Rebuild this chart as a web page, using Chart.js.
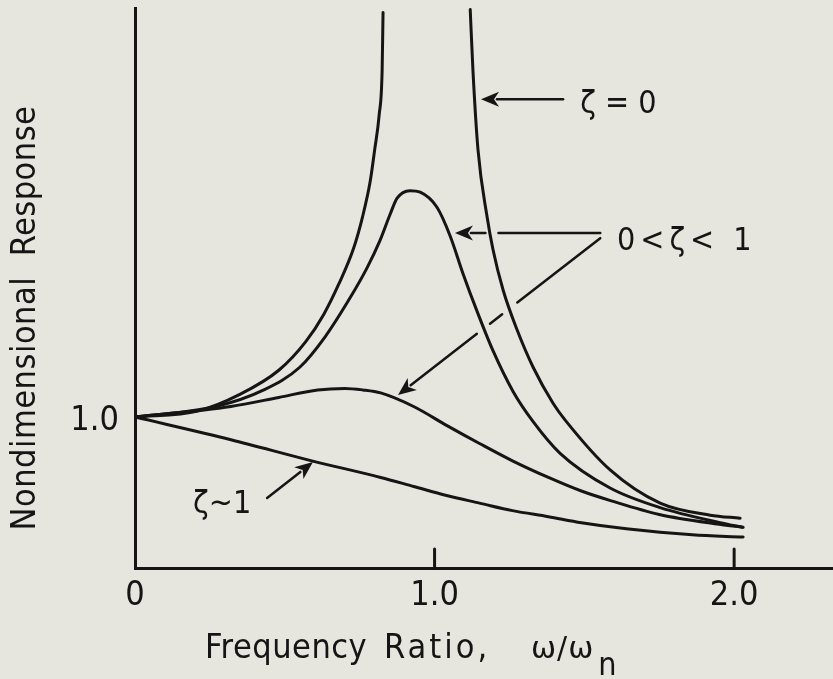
<!DOCTYPE html>
<html>
<head>
<meta charset="utf-8">
<script src="https://cdn.jsdelivr.net/npm/chart.js@4/dist/chart.umd.min.js"></script>
<style>
  body { margin: 0; background: #e6e6de; }
</style>
</head>
<body>
<canvas id="myChart" width="833" height="679"></canvas>
<script>
var xTickValues = [0, 1, 2];
var xTickLabels = ['0', '1.0', '2.0'];
var xTickMarks = [1, 2];
var yTickValues = [1];
var yTickLabels = ['1.0'];

// zeta = 0, below and above resonance
var rUndampedLow = [0, 0.21, 0.35, 0.48, 0.57, 0.63, 0.68, 0.73, 0.76, 0.785, 0.80, 0.815, 0.825, 0.828];
var vUndampedLow = [1.0, 1.04, 1.15, 1.31, 1.50, 1.68, 1.88, 2.12, 2.33, 2.56, 2.77, 3.0, 3.3, 3.68];
var rUndampedHigh = [1.119, 1.128, 1.145, 1.175, 1.195, 1.229, 1.275, 1.329, 1.396, 1.436, 1.586, 1.753, 1.92, 2.02];
var vUndampedHigh = [3.70, 3.30, 2.77, 2.33, 2.11, 1.84, 1.58, 1.33, 1.09, 0.98, 0.65, 0.43, 0.35, 0.33];

// 0 < zeta < 1, light and moderate damping
var rLightDamping = [0, 0.27, 0.43, 0.55, 0.634, 0.718, 0.775, 0.818, 0.851, 0.875, 0.918, 0.952, 1.008, 1.052, 1.095, 1.142, 1.195, 1.262, 1.329, 1.419, 1.586, 1.753, 1.953, 2.027];
var vLightDamping = [1.0, 1.07, 1.18, 1.33, 1.53, 1.79, 1.99, 2.17, 2.34, 2.45, 2.50, 2.49, 2.39, 2.20, 1.95, 1.70, 1.44, 1.17, 0.97, 0.76, 0.53, 0.40, 0.30, 0.27];
var rModerateDamping = [0, 0.32, 0.48, 0.61, 0.70, 0.76, 0.82, 0.93, 1.04, 1.15, 1.26, 1.38, 1.49, 1.59, 1.75, 1.95, 2.03];
var vModerateDamping = [1.0, 1.07, 1.13, 1.18, 1.19, 1.18, 1.16, 1.07, 0.945, 0.825, 0.71, 0.60, 0.51, 0.445, 0.355, 0.29, 0.27];

// zeta ~ 1
var rCritical = [0, 0.32, 0.59, 0.82, 0.93, 1.04, 1.15, 1.26, 1.38, 1.49, 1.64, 1.86, 2.03];
var vCritical = [1.0, 0.85, 0.71, 0.60, 0.54, 0.48, 0.43, 0.38, 0.34, 0.30, 0.26, 0.22, 0.205];

var ink = '#151515';
var font = '"DejaVu Sans Condensed", "DejaVu Sans", sans-serif';

// labels and arrows, in data units
var notes = [
  { text: 'ζ = 0', x: 1.486, y: 3.013, spacing: 0 },
  { text: '0<ζ< 1', x: 1.609, y: 2.106, spacing: 5 },
  { text: 'ζ~1', x: 0.194, y: 0.364, spacing: 0 }
];
var arrows = [
  { from: [1.429, 3.106], to: [1.155, 3.106], gaps: [] },
  { from: [1.553, 2.219], to: [1.068, 2.219], gaps: [[0.70, 0.79]] },
  { from: [1.553, 2.185], to: [0.878, 1.146], gaps: [[0.41, 0.485], [0.545, 0.61]] },
  { from: [0.441, 0.464], to: [0.594, 0.702], gaps: [] }
];

function pairs(xs, ys) {
  return xs.map(function (x, i) { return { x: x, y: ys[i] }; });
}

function curve(xs, ys) {
  return {
    data: pairs(xs, ys),
    showLine: true,
    borderColor: ink,
    borderWidth: 3,
    borderCapStyle: 'round',
    borderJoinStyle: 'round',
    pointRadius: 0,
    cubicInterpolationMode: 'monotone'
  };
}

var sketch = {
  id: 'sketch',
  afterDraw: function (chart) {
    var ctx = chart.ctx;
    var xs = chart.scales.x, ys = chart.scales.y;
    ctx.save();
    ctx.strokeStyle = ink;
    ctx.fillStyle = ink;
    ctx.lineCap = 'round';

    // tick marks point into the plot
    ctx.lineWidth = 3;
    xTickMarks.forEach(function (v) {
      var px = xs.getPixelForValue(v);
      ctx.beginPath();
      ctx.moveTo(px, ys.bottom);
      ctx.lineTo(px, ys.bottom - 19);
      ctx.stroke();
    });

    // arrows, broken where they cross a curve
    ctx.lineWidth = 2.5;
    arrows.forEach(function (a) {
      var x0 = xs.getPixelForValue(a.from[0]), y0 = ys.getPixelForValue(a.from[1]);
      var x1 = xs.getPixelForValue(a.to[0]), y1 = ys.getPixelForValue(a.to[1]);
      var len = Math.hypot(x1 - x0, y1 - y0);
      var ux = (x1 - x0) / len, uy = (y1 - y0) / len;
      var head = 18, half = 7.5;
      var stop = 1 - (head - 2) / len;
      var t = 0;
      a.gaps.concat([[stop, 1]]).forEach(function (g) {
        ctx.beginPath();
        ctx.moveTo(x0 + ux * len * t, y0 + uy * len * t);
        ctx.lineTo(x0 + ux * len * g[0], y0 + uy * len * g[0]);
        ctx.stroke();
        t = g[1];
      });
      var bx = x1 - ux * head, by = y1 - uy * head;
      ctx.beginPath();
      ctx.moveTo(x1, y1);
      ctx.lineTo(bx - uy * half, by + ux * half);
      ctx.lineTo(x1 - ux * (head - 5), y1 - uy * (head - 5));
      ctx.lineTo(bx + uy * half, by - ux * half);
      ctx.closePath();
      ctx.fill();
    });

    // curve labels
    ctx.font = '32px ' + font;
    ctx.textBaseline = 'alphabetic';
    ctx.textAlign = 'left';
    notes.forEach(function (n) {
      ctx.letterSpacing = n.spacing + 'px';
      ctx.fillText(n.text, xs.getPixelForValue(n.x), ys.getPixelForValue(n.y));
    });

    // axis titles
    ctx.letterSpacing = '0.5px';
    ctx.font = '34px ' + font;
    ctx.fillText('Frequency', 205, 658);
    ctx.letterSpacing = '3px';
    ctx.fillText('Ratio,', 384, 658);
    ctx.letterSpacing = '1px';
    ctx.font = '30px "DejaVu Sans", sans-serif';
    ctx.fillText('ω/ω', 531, 658);
    var subX = 531 + ctx.measureText('ω/ω').width + 4;
    ctx.letterSpacing = '0px';
    ctx.font = '32px ' + font;
    ctx.fillText('n', subX, 675);

    ctx.letterSpacing = '0.5px';
    ctx.font = '34px ' + font;
    ctx.translate(35, 318);
    ctx.rotate(-Math.PI / 2);
    ctx.textAlign = 'center';
    ctx.fillText('Nondimensional  Response', 0, 0);
    ctx.restore();
  }
};

new Chart('myChart', {
  type: 'scatter',
  data: {
    datasets: [
      curve(rUndampedLow, vUndampedLow),
      curve(rUndampedHigh, vUndampedHigh),
      curve(rLightDamping, vLightDamping),
      curve(rModerateDamping, vModerateDamping),
      curve(rCritical, vCritical)
    ]
  },
  options: {
    responsive: false,
    animation: false,
    layout: { padding: { top: 8, right: 0, bottom: 0, left: 0 } },
    plugins: {
      legend: { display: false },
      tooltip: { enabled: false }
    },
    scales: {
      x: {
        type: 'linear',
        min: 0,
        max: 2.33,
        afterBuildTicks: function (s) { s.ticks = xTickValues.map(function (v) { return { value: v }; }); },
        afterFit: function (s) { s.height = 111; s.paddingLeft = 0; s.paddingRight = 0; },
        grid: { drawOnChartArea: false, drawTicks: false },
        border: { display: true, color: ink, width: 3 },
        ticks: {
          autoSkip: false,
          maxRotation: 0,
          padding: 8,
          color: ink,
          font: { family: font, size: 34 },
          callback: function (v, i) { return xTickLabels[i]; }
        }
      },
      y: {
        type: 'linear',
        min: 0,
        max: 3.71,
        afterBuildTicks: function (s) { s.ticks = yTickValues.map(function (v) { return { value: v }; }); },
        afterFit: function (s) { s.width = 135; s.paddingTop = 0; s.paddingBottom = 0; },
        grid: { drawOnChartArea: false, drawTicks: false },
        border: { display: true, color: ink, width: 3 },
        ticks: {
          autoSkip: false,
          padding: 16,
          labelOffset: 4,
          color: ink,
          font: { family: font, size: 34 },
          callback: function (v, i) { return yTickLabels[i]; }
        }
      }
    }
  },
  plugins: [sketch]
});
</script>
</body>
</html>
